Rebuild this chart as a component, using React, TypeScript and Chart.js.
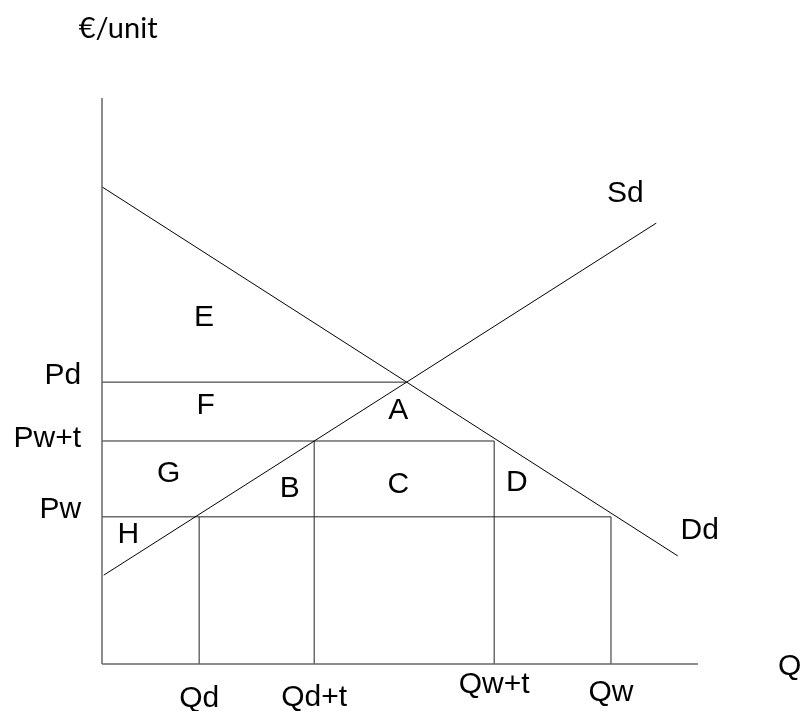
import React, { useEffect, useRef } from "react";
import { Chart, registerables } from "chart.js";

Chart.register(...registerables);

// Quantities (x) and prices (y) in chart units
const qLabels = ["Qd", "Qd+t", "Qw+t", "Qw"];
const qValues = [16.3, 35.6, 65.8, 85.4];
const pLabels = ["Pd", "Pw+t", "Pw"];
const pValues = [49.8, 39.4, 26.0];

// Demand and supply curves (end points)
const demandX = [0, 96.6];
const demandY = [84.3, 19.1];
const supplyX = [0.3, 93.0];
const supplyY = [15.7, 77.9];

// Equilibrium quantity where Pd line meets the curves
const equilibriumQ = 51.0;

// Area letters and their positions
const areaNames = ["E", "F", "G", "H", "B", "A", "C", "D"];
const areaX = [17.1, 17.4, 11.2, 4.4, 31.5, 49.7, 49.7, 69.6];
const areaY = [61.1, 45.6, 33.6, 22.8, 30.9, 44.7, 31.6, 32.0];

// Curve names
const curveNames = ["Sd", "Dd"];
const curveNameX = [87.8, 100.3];
const curveNameY = [83.0, 23.5];

// Axis titles
const yTitle = "€/unit";
const xTitle = "Q";

// price label and quantity label vertical positions
const pLabelY = [50.9, 39.8, 27.2];
const qLabelY = [-6.2, -6.0, -3.7, -5.1];

export default function App() {
  const ref = useRef<HTMLCanvasElement | null>(null);

  useEffect(() => {
    if (!ref.current) return;
    const line = (pts: { x: number; y: number }[], color = "#000", width = 1) => ({
      data: pts,
      showLine: true,
      borderColor: color,
      borderWidth: width,
      pointRadius: 0,
      fill: false,
      clip: false as any,
      tension: 0,
    });

    const datasets: any[] = [];
    // axes
    datasets.push(line([{ x: 0, y: 0 }, { x: 0, y: 100 }], "#666", 1.5));
    datasets.push(line([{ x: 0, y: 0 }, { x: 100, y: 0 }], "#666", 1.5));
    // demand, supply
    datasets.push(line(demandX.map((x, i) => ({ x, y: demandY[i] }))));
    datasets.push(line(supplyX.map((x, i) => ({ x, y: supplyY[i] }))));
    // price lines
    const pEnds = [equilibriumQ, qValues[2], qValues[3]];
    pValues.forEach((p, i) => {
      datasets.push(line([{ x: 0, y: p }, { x: pEnds[i], y: p }], "#222"));
    });
    // quantity verticals
    const qTops = [pValues[2], pValues[1], pValues[1], pValues[2]];
    qValues.forEach((q, i) => {
      datasets.push(line([{ x: q, y: 0 }, { x: q, y: qTops[i] }], "#222"));
    });

    const textPlugin = {
      id: "texts",
      afterDatasetsDraw(chart: any) {
        const ctx = chart.ctx;
        const xs = chart.scales.x;
        const ys = chart.scales.y;
        const px = (v: number) => xs.getPixelForValue(v);
        const py = (v: number) => ys.getPixelForValue(v);
        ctx.save();
        ctx.fillStyle = "#000";
        ctx.textBaseline = "middle";
        ctx.font = '30px "Liberation Sans", Arial, sans-serif';
        ctx.textAlign = "center";
        areaNames.forEach((t, i) => ctx.fillText(t, px(areaX[i]), py(areaY[i])));
        curveNames.forEach((t, i) => ctx.fillText(t, px(curveNameX[i]), py(curveNameY[i])));
        qLabels.forEach((t, i) => ctx.fillText(t, px(qValues[i]), py(qLabelY[i])));
        ctx.fillText(xTitle, px(115.4), py(-0.4));
        ctx.textAlign = "right";
        pLabels.forEach((t, i) => ctx.fillText(t, px(-3.5), py(pLabelY[i])));
        ctx.textAlign = "center";
        ctx.font = '29px Lato, "Open Sans", sans-serif';
        ctx.fillText(yTitle, px(2.7), py(112.2));
        ctx.restore();
      },
    };

    const chart = new Chart(ref.current, {
      type: "scatter",
      data: { datasets },
      options: {
        animation: false,
        responsive: false,
        events: [],
        layout: { padding: { left: 102, right: 109, top: 98, bottom: 47 } },
        plugins: { legend: { display: false }, tooltip: { enabled: false } },
        scales: {
          x: { type: "linear", min: 0, max: 100, display: false },
          y: { type: "linear", min: 0, max: 100, display: false },
        },
      },
      plugins: [textPlugin],
    });
    return () => chart.destroy();
  }, []);

  return (
    <div style={{ position: "fixed", left: 0, top: 0, width: 807, height: 711, background: "#fff" }}>
      <canvas ref={ref} width={807} height={711} style={{ width: 807, height: 711 }} />
    </div>
  );
}
